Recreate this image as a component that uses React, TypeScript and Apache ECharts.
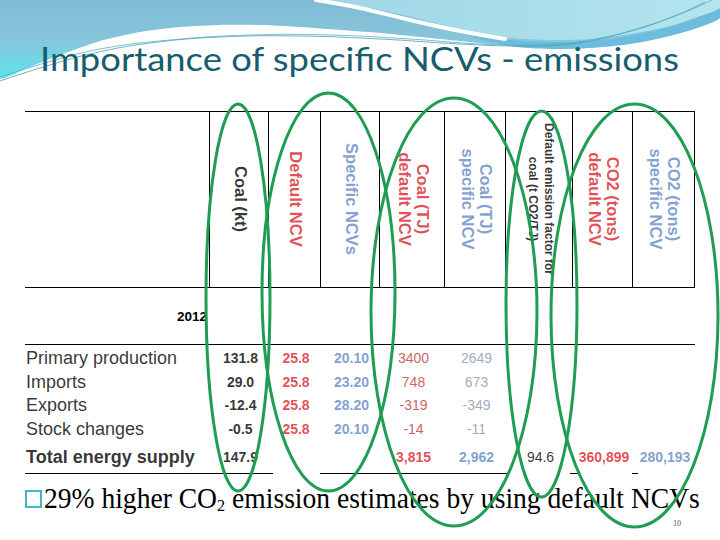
import React, { useEffect, useRef } from "react";
import * as echarts from "echarts";

// ---------------- data ----------------
const titleText = "Importance of specific NCVs - emissions";
const yearLabel = "2012";
const rowLabels = ["Primary production", "Imports", "Exports", "Stock changes", "Total energy supply"];
const headerLabels = [
  "Coal (kt)",
  "Default NCV",
  "Specific NCVs",
  "Coal (TJ)\ndefault NCV",
  "Coal (TJ)\nspecific NCV",
  "Default emission factor for\ncoal (t CO2/TJ)",
  "CO2 (tons)\ndefault NCV",
  "CO2 (tons)\nspecific NCV",
];
const coalKt = [131.8, 29.0, -12.4, -0.5, 147.9];
const defaultNcv = [25.8, 25.8, 25.8, 25.8, null];
const specificNcv = [20.1, 23.2, 28.2, 20.1, null];
const coalTjDefault = [3400, 748, -319, -14, 3815];
const coalTjSpecific = [2649, 673, -349, -11, 2962];
const emissionFactor = [null, null, null, null, 94.6];
const co2Default = [null, null, null, null, 360899];
const co2Specific = [null, null, null, null, 280193];
const noteParts = ["29% higher CO", "2", " emission estimates by using default NCVs"];
const pageNumber = "10";

// ---------------- layout & styles ----------------
const SANS = "'Liberation Sans', Arial, sans-serif";
const SERIF = "'Liberation Serif', 'Times New Roman', serif";
const RED = "#DA1F2B";
const RED_SOFT = "#BE3840";
const BLUE = "#6188C5";
const BLUE_SOFT = "#8795B0";
const BLACK = "#000000";
const GREEN = "#1F9D52";

const TABLE_LEFT = 25;
const COL_WIDTHS = [184, 59, 52, 59, 65, 61, 67, 60, 62];
const TABLE_WIDTH = COL_WIDTHS.reduce((a, b) => a + b, 0);
const EDGES: number[] = COL_WIDTHS.reduce((acc: number[], w) => { acc.push(acc[acc.length - 1] + w); return acc; }, [0]);
const TEXT_NUDGE = 2;
const colCenter = (k: number) => (EDGES[k + 1] + EDGES[k + 2]) / 2 + TEXT_NUDGE;

const HEAD_TOP = 111;
const HEAD_BOTTOM = 287;
const BODY_RULE = 344;
const FOOT_RULE = 473;
const ROW_SLOT = [0, 1, 2, 3, 4.2];
const ROW_PITCH = 23.5;
const FIRST_ROW_Y = 358;

const HIGHLIGHTS = [
  { cx: 238, cy: 297.5, rx: 32, ry: 193.5 },
  { cx: 328.5, cy: 292, rx: 66.5, ry: 199 },
  { cx: 454, cy: 312, rx: 83, ry: 214 },
  { cx: 541.5, cy: 304, rx: 35.5, ry: 193 },
  { cx: 634.5, cy: 315.5, rx: 83.5, ry: 211.5 },
];

type Col = {
  values: (number | null)[];
  fmt: (v: number, total: boolean) => string;
  color: string;
  weight: string;
  totalColor?: string;
  totalWeight?: string;
};

const thousands = (v: number) => v.toLocaleString("en-US");
const columns: Col[] = [
  { values: coalKt, fmt: (v) => v.toFixed(1), color: BLACK, weight: "bold" },
  { values: defaultNcv, fmt: (v) => v.toFixed(1), color: RED, weight: "bold" },
  { values: specificNcv, fmt: (v) => v.toFixed(2), color: BLUE, weight: "bold" },
  { values: coalTjDefault, fmt: (v, t) => (t ? thousands(v) : String(v)), color: RED_SOFT, weight: "normal", totalColor: RED, totalWeight: "bold" },
  { values: coalTjSpecific, fmt: (v, t) => (t ? thousands(v) : String(v)), color: BLUE_SOFT, weight: "normal", totalColor: BLUE, totalWeight: "bold" },
  { values: emissionFactor, fmt: (v) => v.toFixed(1), color: BLACK, weight: "normal" },
  { values: co2Default, fmt: (v) => thousands(v), color: RED, weight: "bold" },
  { values: co2Specific, fmt: (v) => thousands(v), color: BLUE, weight: "bold" },
];
const headerColors = [BLACK, RED, BLUE, RED, BLUE, BLACK, RED, BLUE];

function measure(text: string, size: number, family: string, weight = "normal") {
  const ctx = document.createElement("canvas").getContext("2d");
  if (!ctx) return text.length * size * 0.5;
  ctx.font = `${weight} ${size}px ${family}`;
  return ctx.measureText(text).width;
}

function buildOption() {
  const titleW = measure(titleText, 32, "Lato");
  const titleScale = 640 / titleW;
  const noteW =
    measure(noteParts[0], 29, SERIF) + measure(noteParts[1], 17, SERIF) + measure(noteParts[2], 29, SERIF);
  const noteScale = 656 / noteW;

  const textScatter = (name: string, xi: number, yi: number, data: any[], label: any) => ({
    type: "scatter",
    name,
    xAxisIndex: xi,
    yAxisIndex: yi,
    data,
    symbolSize: 1,
    silent: true,
    itemStyle: { color: "rgba(0,0,0,0)" },
    emphasis: { disabled: true },
    label: { show: true, formatter: "{b}", fontFamily: SANS, ...label },
    z: 3,
  });

  const headerData = headerLabels.map((h, k) => ({
    name: h,
    value: [colCenter(k), 0.5],
    label: {
      color: headerColors[k],
      fontSize: k === 5 ? 12 : 16.5,
      lineHeight: k === 5 ? 16 : 18,
      fontWeight: "bold",
    },
  }));

  const rowData = rowLabels.map((l, i) => ({
    name: l,
    value: [0, ROW_SLOT[i]],
    label: { fontWeight: i === rowLabels.length - 1 ? "bold" : "normal" },
  }));

  const valueSeries = columns.map((c, k) => {
    const data: any[] = [];
    c.values.forEach((v, i) => {
      if (v === null || v === undefined) return;
      const total = i === c.values.length - 1;
      data.push({
        name: c.fmt(v, total),
        value: [colCenter(k), ROW_SLOT[i]],
        label: {
          color: total && c.totalColor ? c.totalColor : c.color,
          fontWeight: total && c.totalWeight ? c.totalWeight : c.weight,
        },
      });
    });
    return textScatter(headerLabels[k], 1, 1, data, { position: "inside", fontSize: 14 });
  });

  const px = (u: number) => TABLE_LEFT + u;
  const lines: any[] = [];
  const hline = (y: number, x1: number, x2: number) =>
    lines.push({ type: "line", z: 5, shape: { x1, y1: y + 0.5, x2, y2: y + 0.5 }, style: { stroke: "#000", lineWidth: 1 } });
  hline(HEAD_TOP, px(0), px(TABLE_WIDTH));
  hline(HEAD_BOTTOM, px(0), px(TABLE_WIDTH));
  hline(BODY_RULE, px(0), px(TABLE_WIDTH) + 1);
  hline(FOOT_RULE, px(0), px(EDGES[1]) + 64);
  hline(FOOT_RULE, px(EDGES[2]) + 52, px(EDGES[5]) + 65);
  hline(FOOT_RULE, px(EDGES[7]) - 2, px(EDGES[7]) + 8);
  hline(FOOT_RULE, px(EDGES[8]), px(EDGES[8]) + 6);
  for (let k = 1; k < EDGES.length; k++) {
    const x = px(EDGES[k]) + 0.5;
    lines.push({ type: "line", z: 5, shape: { x1: x, y1: HEAD_TOP, x2: x, y2: HEAD_BOTTOM + 1 }, style: { stroke: "#000", lineWidth: 1 } });
  }

  const deco: any[] = [
    {
      type: "polygon",
      z: 1,
      shape: {
        points: [[0, 0], [720, 0], [720, 16], [690, 27], [650, 38], [610, 45], [575, 48], [540, 47], [500, 45], [460, 41], [420, 37], [380, 33], [340, 30], [300, 27], [260, 25], [220, 25], [180, 27], [140, 32], [100, 41], [60, 55], [25, 69], [0, 78]],
        smooth: 0.2,
      },
      style: {
        fill: new echarts.graphic.LinearGradient(0, 0, 0, 1, [
          { offset: 0, color: "#7DB9D3" },
          { offset: 0.55, color: "#88C6DC" },
          { offset: 1, color: "#5DE3EE" },
        ]),
      },
    },
    {
      type: "polygon",
      z: 2,
      shape: {
        points: [[470, 36], [510, 40], [550, 42], [590, 41], [630, 36], [670, 27], [700, 17], [720, 9], [720, 18], [700, 27], [670, 36], [630, 44], [590, 48], [550, 49], [510, 46]],
        smooth: 0.3,
      },
      style: { fill: "#6CBCDD" },
    },
    {
      type: "polygon",
      z: 2,
      shape: {
        points: [[322, 0], [720, 0], [720, 8], [700, 16], [670, 26], [630, 34], [590, 39], [550, 40], [510, 38], [480, 34], [450, 27], [420, 19], [390, 12], [355, 5]],
        smooth: 0.3,
      },
      style: {
        fill: new echarts.graphic.LinearGradient(0, 0, 1, 0, [
          { offset: 0, color: "#9FD6E6" },
          { offset: 1, color: "#B3E5EE" },
        ]),
      },
    },
    {
      type: "polyline",
      z: 3,
      shape: { points: [[316, 0], [360, 8], [410, 20], [460, 31], [505, 39]], smooth: 0.4 },
      style: { stroke: "#FFFFFF", lineWidth: 4, lineCap: "round" },
    },
    {
      type: "polyline",
      z: 4,
      shape: { points: [[0, 81], [40, 68], [90, 54], [150, 43], [220, 37], [300, 36], [380, 39], [460, 44], [520, 46], [570, 44], [620, 34], [670, 18], [705, 2]], smooth: 0.4 },
      style: { stroke: "#4A9FB5", lineWidth: 0.8, fill: "none" },
    },
    {
      type: "polyline",
      z: 4,
      shape: { points: [[0, 77], [45, 63], [100, 49], [170, 40], [250, 35], [330, 35], [410, 39], [480, 44], [540, 45], [590, 40], [640, 28], [690, 10], [712, 0]], smooth: 0.4 },
      style: { stroke: "#5AAFC2", lineWidth: 0.8, fill: "none" },
    },
  ];

  const texts: any[] = [
    {
      type: "text",
      z: 10,
      x: 40,
      y: 58.5,
      scaleX: titleScale,
      style: { text: titleText, fontSize: 32, fontFamily: "Lato", fill: "#175D6E", align: "left", verticalAlign: "middle" },
    },
    {
      type: "text",
      z: 10,
      x: px(EDGES[1]) - 2,
      y: 316,
      style: { text: yearLabel, fontSize: 13.5, fontWeight: "bold", fontFamily: SANS, fill: "#000", align: "right", verticalAlign: "middle" },
    },
    {
      type: "rect",
      z: 10,
      shape: { x: 26, y: 491, width: 15, height: 16 },
      style: { fill: "none", stroke: "#3FB6CA", lineWidth: 2 },
    },
    {
      type: "text",
      z: 10,
      x: 44,
      y: 498,
      scaleX: noteScale,
      style: {
        text: `{m|${noteParts[0]}}{s|${noteParts[1]}}{m|${noteParts[2]}}`,
        align: "left",
        verticalAlign: "middle",
        rich: {
          m: { fontSize: 29, fontFamily: SERIF, fill: "#000", lineHeight: 32 },
          s: { fontSize: 17, fontFamily: SERIF, fill: "#000", lineHeight: 17, verticalAlign: "bottom" },
        },
      },
    },
    {
      type: "text",
      z: 10,
      x: 677,
      y: 523,
      style: { text: pageNumber, fontSize: 8, fontFamily: SERIF, fill: "#3A4A55", align: "center", verticalAlign: "middle" },
    },
  ];

  const ellipses = HIGHLIGHTS.map((e) => ({
    type: "ellipse",
    z: 100,
    shape: e,
    style: { fill: "none", stroke: GREEN, lineWidth: 3 },
  }));

  return {
    animation: false,
    backgroundColor: "#ffffff",
    grid: [
      { left: TABLE_LEFT, top: HEAD_TOP, width: TABLE_WIDTH, height: HEAD_BOTTOM - HEAD_TOP },
      { left: TABLE_LEFT, top: FIRST_ROW_Y - 0.5 * ROW_PITCH, width: TABLE_WIDTH, height: 5.2 * ROW_PITCH },
    ],
    xAxis: [
      { type: "value", gridIndex: 0, min: 0, max: TABLE_WIDTH, show: false },
      { type: "value", gridIndex: 1, min: 0, max: TABLE_WIDTH, show: false },
    ],
    yAxis: [
      { type: "value", gridIndex: 0, min: 0, max: 1, show: false },
      { type: "value", gridIndex: 1, min: -0.5, max: 4.7, inverse: true, show: false },
    ],
    series: [
      textScatter("headers", 0, 0, headerData, { position: "inside", rotate: -90, align: "center", verticalAlign: "middle" }),
      textScatter("rows", 1, 1, rowData, { position: "right", distance: 0.5, fontSize: 18, color: "#000" }),
      ...valueSeries,
    ],
    graphic: { elements: [...deco, ...lines, ...texts, ...ellipses] },
  };
}

export default function App() {
  const ref = useRef<HTMLDivElement>(null);
  useEffect(() => {
    if (!ref.current) return;
    const chart = echarts.init(ref.current, null, { renderer: "svg" });
    chart.setOption(buildOption() as any);
    return () => chart.dispose();
  }, []);
  return (
    <div
      ref={ref}
      style={{ position: "absolute", left: 0, top: 0, width: 720, height: 540, background: "#ffffff" }}
    />
  );
}
